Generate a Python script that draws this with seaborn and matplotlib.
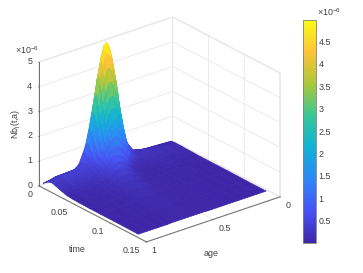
""" Surface of Nb_j(t,a) over time and age, with a parula style colorbar
"""

import numpy as np
import seaborn as sns
import matplotlib.pyplot as plt

ages = [.013, .08, .15, .22, .315, .355, .385, .415, .435, .455, .475, .495, .515,
        .535, .555, .575, .595, .615, .635, .655, .675, .705, .755, .82, .90, .97]
times = [0, .002, .004, .006, .008, .01, .012, .014, .016, .018, .02, .023, .026, .03, .034, .042, .05, .065, .08, .105, .133]

# values in units of 1e-6, one row per time
nb_rows = [
    [.01, .03, .05, .07, .19, .44, .72, 1.28, 2.08, 2.84, 3.38, 3.77, 3.95, 3.89, 3.6, 3.13, 2.55, 1.96, 1.41, .96, .68, .3, .1, .09, .08, .05],
    [.02, .05, .08, .1, .22, .5, .83, 1.47, 2.39, 3.27, 3.89, 4.33, 4.6, 4.47, 4.14, 3.6, 2.93, 2.25, 1.62, 1.1, .78, .38, .19, .17, .16, .1],
    [.02, .07, .1, .13, .24, .55, .9, 1.6, 2.6, 3.55, 4.25, 4.75, 4.97, 4.88, 4.5, 3.91, 3.19, 2.45, 1.76, 1.2, .85, .45, .27, .25, .24, .15],
    [.03, .08, .12, .15, .22, .51, .84, 1.49, 2.42, 3.3, 3.93, 4.38, 4.59, 4.52, 4.18, 3.64, 2.97, 2.28, 1.64, 1.12, .79, .48, .33, .31, .29, .19],
    [.03, .09, .13, .17, .2, .45, .74, 1.31, 2.13, 2.91, 3.47, 3.86, 4.05, 3.99, 3.69, 3.21, 2.62, 2.01, 1.44, .98, .7, .5, .38, .36, .34, .22],
    [.03, .1, .14, .18, .19, .39, .64, 1.14, 1.85, 2.52, 3.0, 3.34, 3.51, 3.45, 3.2, 2.78, 2.26, 1.74, 1.25, .85, .62, .5, .4, .38, .36, .24],
    [.03, .1, .14, .18, .17, .33, .54, .96, 1.56, 2.13, 2.54, 2.83, 2.96, 2.92, 2.7, 2.35, 1.91, 1.47, 1.06, .72, .55, .5, .42, .4, .38, .25],
    [.03, .1, .14, .17, .15, .28, .46, .82, 1.33, 1.81, 2.16, 2.4, 2.52, 2.48, 2.3, 1.99, 1.63, 1.25, .9, .61, .48, .45, .4, .38, .36, .24],
    [.03, .09, .13, .16, .14, .23, .38, .67, 1.09, 1.49, 1.78, 1.98, 2.07, 2.04, 1.89, 1.64, 1.34, 1.03, .74, .5, .4, .4, .38, .36, .34, .22],
    [.03, .08, .12, .15, .12, .18, .28, .47, .79, 1.14, 1.43, 1.63, 1.74, 1.76, 1.68, 1.5, 1.26, 1.0, .74, .52, .41, .38, .35, .33, .31, .2],
    [.02, .07, .1, .13, .1, .12, .17, .27, .48, .78, 1.07, 1.27, 1.41, 1.48, 1.46, 1.35, 1.17, .96, .74, .53, .42, .35, .32, .3, .28, .18],
    [.02, .06, .09, .11, .09, .1, .13, .19, .32, .53, .76, .94, 1.07, 1.14, 1.15, 1.09, .97, .81, .64, .48, .36, .3, .27, .25, .24, .15],
    [.02, .05, .07, .09, .07, .07, .08, .1, .15, .27, .44, .6, .72, .8, .84, .83, .77, .66, .54, .42, .3, .26, .21, .2, .19, .12],
    [.02, .04, .05, .07, .05, .05, .06, .07, .1, .17, .29, .41, .52, .59, .63, .63, .6, .53, .44, .35, .26, .21, .16, .14, .13, .08],
    [.01, .03, .04, .05, .04, .04, .04, .04, .05, .08, .14, .23, .32, .38, .42, .44, .44, .41, .35, .29, .22, .16, .12, .08, .08, .05],
    [.01, .02, .03, .04, .03, .03, .03, .03, .04, .05, .09, .14, .21, .26, .29, .31, .32, .3, .26, .22, .17, .13, .09, .06, .05, .03],
    [.01, .02, .02, .03, .03, .03, .03, .03, .03, .03, .04, .06, .1, .14, .17, .19, .2, .19, .18, .16, .13, .1, .07, .04, .03, .02],
    [.01, .01, .01, .02, .02, .02, .02, .02, .02, .02, .03, .04, .06, .09, .11, .12, .13, .13, .12, .11, .09, .07, .05, .03, .02, .01],
    [.01, .01, .01, .02, .02, .02, .02, .02, .02, .02, .02, .03, .03, .04, .05, .06, .07, .07, .07, .07, .06, .05, .04, .02, .01, .01],
    [0, .01, .01, .01, .01, .01, .01, .01, .01, .01, .01, .02, .02, .02, .03, .03, .04, .04, .04, .04, .03, .03, .02, .01, .01, .01],
    [0, 0, 0, 0, 0, 0, 0, 0, 0, 0, .01, .01, .01, .01, .01, .01, .01, .01, .01, .01, .01, .01, 0, 0, 0, 0],
]

parula = [(.2422, .1504, .6603), (.2810, .3228, .9579), (.1786, .5289, .9682), (.0689, .6948, .8394),
          (.2161, .7843, .5923), (.6720, .7793, .2227), (.9970, .7659, .2199), (.9769, .9839, .0805)]

age_ticks = [0, .5, 1]
age_labels = ['0', '0.5', '1']
time_ticks = [0, .05, .1, .15]
time_labels = ['0', '0.05', '0.1', '0.15']
z_ticks = [0, 1, 2, 3, 4, 5]
bar_ticks = [.5, 1, 1.5, 2, 2.5, 3, 3.5, 4, 4.5]
bar_labels = ['0.5', '1', '1.5', '2', '2.5', '3', '3.5', '4', '4.5']

sns.set_theme(style='white')
plt.rcParams['font.family'] = ['Liberation Sans', 'DejaVu Sans']
plt.rcParams['mathtext.default'] = 'regular'
plt.rcParams['grid.color'] = '#e8e8e8'
plt.rcParams['grid.linewidth'] = 0.6

TEXT = '#404040'
FS = 6.4

cmap = sns.blend_palette(parula, n_colors=256, as_cmap=True)

fig = plt.figure(figsize=(3.63, 2.73), dpi=100)
ax = fig.add_axes([20.9 / 363, 4.9 / 273, 270 / 363, 270 / 273], projection='3d', proj_type='ortho')
ax.view_init(elev=24.8, azim=51.2)
ax.set_box_aspect((171.6, 171.6, 136.6))

T, A = np.meshgrid(times, ages, indexing='ij')
Z = np.array(nb_rows)
surf = ax.plot_surface(A, T, Z, cmap=cmap, vmin=0, vmax=4.98, rstride=1, cstride=1,
                       linewidth=0, antialiased=True, shade=False)
surf.set_edgecolor('face')
surf.set_linewidth(0.5)

ax.set_xlim(0, 1, view_margin=0)
ax.set_ylim(0, .15, view_margin=0)
ax.set_zlim(0, 5, view_margin=0)
ax.set_xticks(age_ticks, age_labels, fontsize=FS, color=TEXT, ha='left', va='center')
ax.set_yticks(time_ticks, time_labels, fontsize=FS, color=TEXT, ha='right', va='center')
ax.set_zticks(z_ticks, [str(v) for v in z_ticks], fontsize=FS, color=TEXT, ha='left', va='center')
ax.tick_params(pad=-3, color='#606060')

for axis in (ax.xaxis, ax.yaxis, ax.zaxis):
    axis.set_pane_color((1, 1, 1, 1))
    axis.pane.set_edgecolor('#e8e8e8')
    axis.line.set_color('#707070')
    axis.line.set_linewidth(0.7)
    axis._axinfo['tick'].update({'inward_factor': 0.06, 'outward_factor': 0.0,
                                 'linewidth': {True: 0.5, False: 0.5}})
ax.zaxis.set_ticks_position('lower')

fig.text(77 / 363, 1 - 250 / 273, 'time', fontsize=FS, color=TEXT, ha='center', va='center')
fig.text(211 / 363, 1 - 254 / 273, 'age', fontsize=FS, color=TEXT, ha='center', va='center')
fig.text(16 / 363, 1 - 124 / 273, 'Nb$_j$(t,a)', fontsize=FS, color=TEXT, ha='center', va='center', rotation=90)

cax = fig.add_axes([303 / 363, 30 / 273, 13 / 363, 223 / 273])
bar = fig.colorbar(surf, cax=cax)
bar.set_ticks(bar_ticks, labels=bar_labels)
bar.ax.tick_params(labelsize=FS, labelcolor=TEXT, length=1.5, width=0.5, direction='in', color='#404040', pad=2)
bar.outline.set_edgecolor('#808080')
bar.outline.set_linewidth(0.6)
fig.text(317 / 363, 1 - 16 / 273, r'$\times 10^{-6}$', fontsize=FS, color=TEXT)
fig.text(15 / 363, 1 - 54 / 273, r'$\times 10^{-6}$', fontsize=FS, color=TEXT)

fig.savefig('out.png', dpi=100)
